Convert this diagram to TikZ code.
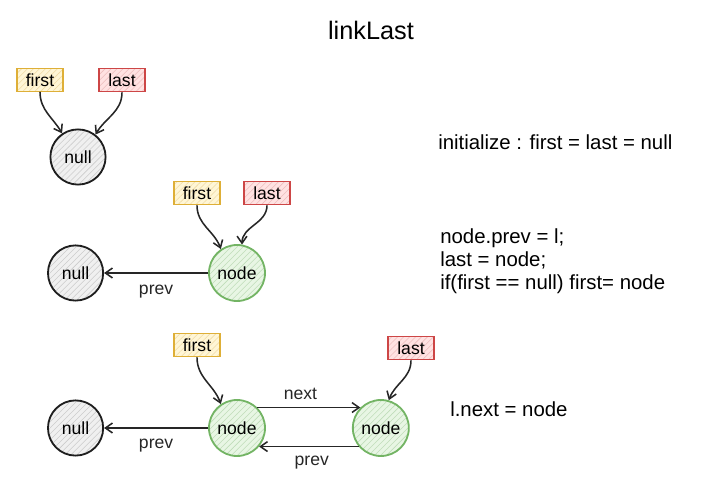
\documentclass[tikz,border=0pt]{standalone}
\usepackage{fontspec}
\setmainfont{Liberation Sans}
\usepackage{tikz}
\definecolor{firstline}{RGB}{222,175,55}
\definecolor{firstfill}{RGB}{255,246,214}
\definecolor{lastline}{RGB}{205,70,70}
\definecolor{lastfill}{RGB}{255,226,226}
\definecolor{nodeline}{RGB}{115,180,100}
\definecolor{nodefill}{RGB}{232,246,228}
\definecolor{nullline}{RGB}{30,30,30}
\definecolor{nullfill}{RGB}{240,240,240}
\usetikzlibrary{arrows.meta,positioning,patterns.meta}

\begin{document}
\begin{tikzpicture}[
    font=\fontsize{12.5}{14}\selectfont,
    firstbox/.style={rectangle, draw=firstline, line width=1.1pt, preaction={fill=firstfill}, pattern={Lines[angle=45,distance=3pt,line width=0.4pt]}, pattern color=firstline!45, minimum width=1.15cm, minimum height=0.58cm, inner sep=1pt},
    lastbox/.style={rectangle, draw=lastline, line width=1.1pt, preaction={fill=lastfill}, pattern={Lines[angle=45,distance=3pt,line width=0.4pt]}, pattern color=lastline!35, minimum width=1.15cm, minimum height=0.58cm, inner sep=1pt},
    listnode/.style={circle, draw=nodeline, line width=1.3pt, preaction={fill=nodefill}, pattern={Lines[angle=45,distance=3pt,line width=0.4pt]}, pattern color=nodeline!45, minimum size=1.4cm, inner sep=0pt},
    nullnode/.style={circle, draw=nullline, line width=1.3pt, preaction={fill=nullfill}, pattern={Lines[angle=45,distance=3pt,line width=0.4pt]}, pattern color=black!20, minimum size=1.38cm, inner sep=0pt},
    arrow/.style={-{Straight Barb[length=5pt,width=7pt]}, line width=1.1pt, black!85},
    code/.style={anchor=west, align=left, inner sep=0pt, font=\fontsize{14.5}{16.2}\selectfont}
]
\useasboundingbox (0,0) rectangle (18,-12.25);

\node[font=\fontsize{18}{20}\selectfont] (title) at (9.275,-0.75) {linkLast};

% initialize
\node[firstbox] (first1) at (1.0,-2.0) {first};
\node[lastbox] (last1) at (3.05,-2.0) {last};
\node[nullnode] (null1) at (1.95,-3.925) {null};
\draw[arrow] (first1.south) to[out=-90,in=120] (null1.124);
\draw[arrow] (last1.south) to[out=-90,in=60] (null1.52);
\node[code] (init) at (10.95,-3.55) {initialize : first = last = null};

% first linkLast
\node[listnode] (node2) at (5.925,-6.825) {node};
\node[nullnode, left=2.6cm of node2] (null2) {null};
\node[firstbox] (first2) at (4.925,-4.825) {first};
\node[lastbox] (last2) at (6.675,-4.825) {last};
\draw[arrow] (first2.south) to[out=-90,in=110] (node2.124);
\draw[arrow] (last2.south) to[out=-90,in=90] (node2.80);
\draw[arrow] (node2.west) -- node[below=5pt] {prev} (null2.east);
\node[code] (step1) at (11.0,-6.525) {node.prev = l;\\last = node;\\if(first == null) first= node};

% second linkLast
\node[listnode] (node3a) at (5.925,-10.7) {node};
\node[listnode, right=2.15cm of node3a] (node3b) {node};
\node[nullnode, left=2.6cm of node3a] (null3) {null};
\node[firstbox] (first3) at (4.925,-8.625) {first};
\node[lastbox] (last3) at (10.275,-8.7) {last};
\draw[arrow] (first3.south) to[out=-90,in=110] (node3a.124);
\draw[arrow] (last3.south) to[out=-90,in=70] (node3b.74);
\draw[arrow] (node3a.west) -- node[below=4pt] {prev} (null3.east);
\draw[arrow] (node3a.45) -- node[above=2pt, xshift=-6pt] {next} (node3b.135);
\draw[arrow] (node3b.-140) -- node[below=3pt, xshift=2pt] {prev} (node3a.-40);
\node[code] (step2) at (11.25,-10.225) {l.next = node};

\end{tikzpicture}
\end{document}
